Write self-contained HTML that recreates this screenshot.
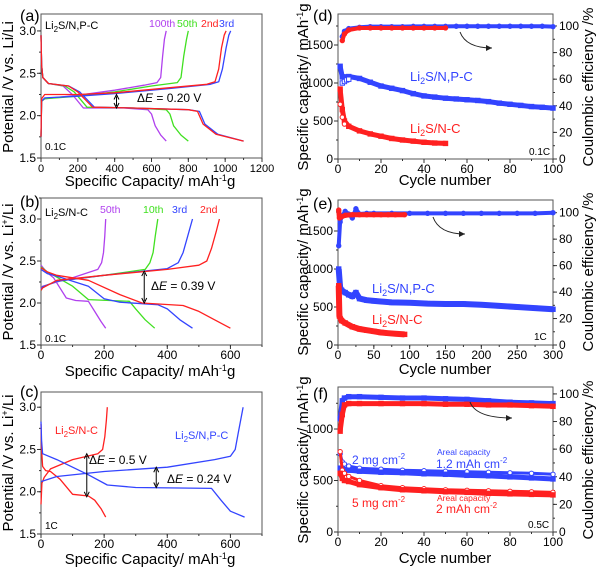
<!DOCTYPE html>
<html><head><meta charset="utf-8">
<style>
html,body{margin:0;padding:0;background:#fff;}
svg{display:block;font-family:"Liberation Sans",sans-serif;}
</style></head>
<body>
<svg id="fig" width="600" height="570" viewBox="0 0 600 570" xmlns="http://www.w3.org/2000/svg">
<rect width="600" height="570" fill="#fff"/>
<g font-size="15" fill="#000">
<text x="20" y="21" font-size="16">(a)</text>
<text x="45" y="29" font-size="11">Li<tspan dy="3" font-size="8">2</tspan><tspan dy="-3">S/N,P-C</tspan></text>
<text x="149" y="27" font-size="10.5" fill="#b040ee">100th</text>
<text x="177" y="27" font-size="10.5" fill="#40e020">50th</text>
<text x="201" y="27" font-size="10.5" fill="#ff2020">2nd</text>
<text x="219" y="27" font-size="10.5" fill="#3344ff">3rd</text>
<text x="137" y="102" font-size="12">Δ<tspan font-style="italic">E</tspan> = 0.20 V</text>
<text x="45" y="150" font-size="10">0.1C</text>
<text transform="translate(13,87) rotate(-90)" text-anchor="middle">Potential /V vs. Li/Li</text>
<text x="150" y="186" text-anchor="middle">Specific Capacity/ mAh<tspan dy="-5" font-size="9">-1</tspan><tspan dy="5">g</tspan></text>
<text x="20" y="207" font-size="16">(b)</text>
<text x="45" y="216" font-size="11">Li<tspan dy="3" font-size="8">2</tspan><tspan dy="-3">S/N-C</tspan></text>
<text x="100" y="213" font-size="10.5" fill="#b040ee">50th</text>
<text x="143" y="213" font-size="10.5" fill="#40e020">10th</text>
<text x="172" y="213" font-size="10.5" fill="#3344ff">3rd</text>
<text x="200" y="213" font-size="10.5" fill="#ff2020">2nd</text>
<text x="151" y="290" font-size="12">Δ<tspan font-style="italic">E</tspan> = 0.39 V</text>
<text x="45" y="342" font-size="10">0.1C</text>
<text transform="translate(13,272) rotate(-90)" text-anchor="middle">Potential /V vs. Li<tspan dy="-5" font-size="9">+</tspan><tspan dy="5">/Li</tspan></text>
<text x="150" y="376" text-anchor="middle">Specific Capacity/ mAh<tspan dy="-5" font-size="9">-1</tspan><tspan dy="5">g</tspan></text>
<text x="20" y="397" font-size="16">(c)</text>
<text x="55" y="434" font-size="11" fill="#ff2020">Li<tspan dy="3" font-size="8">2</tspan><tspan dy="-3">S/N-C</tspan></text>
<text x="175" y="439" font-size="11" fill="#3344ff">Li<tspan dy="3" font-size="8">2</tspan><tspan dy="-3">S/N,P-C</tspan></text>
<text x="89" y="464" font-size="12">Δ<tspan font-style="italic">E</tspan> = 0.5 V</text>
<text x="167" y="483" font-size="12">Δ<tspan font-style="italic">E</tspan> = 0.24 V</text>
<text x="45" y="529" font-size="10">1C</text>
<text transform="translate(13,463) rotate(-90)" text-anchor="middle">Potential /V vs. Li<tspan dy="-5" font-size="9">+</tspan><tspan dy="5">/Li</tspan></text>
<text x="150" y="564" text-anchor="middle">Specific Capacity/ mAh<tspan dy="-5" font-size="9">-1</tspan><tspan dy="5">g</tspan></text>
<text x="313" y="21" font-size="16">(d)</text>
<text x="410" y="81" font-size="13" fill="#3344ff">Li<tspan dy="3" font-size="9">2</tspan><tspan dy="-3">S/N,P-C</tspan></text>
<text x="410" y="133" font-size="13" fill="#ff2020">Li<tspan dy="3" font-size="9">2</tspan><tspan dy="-3">S/N-C</tspan></text>
<text x="529" y="155" font-size="10">0.1C</text>
<text transform="translate(308,87) rotate(-90)" text-anchor="middle">Specific capacity/ mAh<tspan dy="-5" font-size="9">-1</tspan><tspan dy="5">g</tspan></text>
<text transform="translate(593,87) rotate(-90)" text-anchor="middle">Coulombic efficiency /%</text>
<text x="445" y="185" text-anchor="middle">Cycle number</text>
<text x="313" y="209" font-size="16">(e)</text>
<text x="372" y="293" font-size="13" fill="#3344ff">Li<tspan dy="3" font-size="9">2</tspan><tspan dy="-3">S/N,P-C</tspan></text>
<text x="372" y="324" font-size="13" fill="#ff2020">Li<tspan dy="3" font-size="9">2</tspan><tspan dy="-3">S/N-C</tspan></text>
<text x="534" y="340" font-size="10">1C</text>
<text transform="translate(308,272) rotate(-90)" text-anchor="middle">Specific capacity/ mAh<tspan dy="-5" font-size="9">-1</tspan><tspan dy="5">g</tspan></text>
<text transform="translate(593,272) rotate(-90)" text-anchor="middle">Coulombic efficiency /%</text>
<text x="445" y="374" text-anchor="middle">Cycle number</text>
<text x="313" y="399" font-size="16">(f)</text>
<text x="352" y="464" font-size="12" fill="#3344ff">2 mg cm<tspan dy="-5" font-size="8">-2</tspan></text>
<text x="437" y="455" font-size="8.5" fill="#3344ff">Areal capacity</text>
<text x="436" y="468" font-size="12" fill="#3344ff">1.2 mAh cm<tspan dy="-5" font-size="8">-2</tspan></text>
<text x="352" y="507" font-size="12" fill="#ff2020">5 mg cm<tspan dy="-5" font-size="8">-2</tspan></text>
<text x="437" y="501" font-size="8.5" fill="#ff2020">Areal capacity</text>
<text x="436" y="513" font-size="12" fill="#ff2020">2 mAh cm<tspan dy="-5" font-size="8">-2</tspan></text>
<text x="528" y="528" font-size="10">0.5C</text>
<text transform="translate(308,460) rotate(-90)" text-anchor="middle">Specific capacity/ mAh<tspan dy="-5" font-size="9">-1</tspan><tspan dy="5">g</tspan></text>
<text transform="translate(593,460) rotate(-90)" text-anchor="middle">Coulombic efficiency /%</text>
<text x="445" y="563" text-anchor="middle">Cycle number</text>
</g>
</svg>
<script>
const a2ChgCap=[0,3,20,200,400,700,900,945,965,980,995,1005];
const a2ChgV=[1.75,2.2,2.25,2.25,2.27,2.33,2.37,2.4,2.55,2.8,2.95,3.0];
const a2DisCap=[0,3,10,40,150,200,280,500,800,850,880,950,1100];
const a2DisV=[2.95,2.6,2.45,2.38,2.35,2.28,2.1,2.09,2.07,2.05,1.9,1.78,1.7];
const a3ChgCap=[0,3,20,200,400,700,920,965,985,1005,1020,1030];
const a3ChgV=[1.75,2.17,2.21,2.23,2.26,2.32,2.37,2.4,2.55,2.8,2.95,3.0];
const a3DisCap=[0,3,10,40,150,210,290,500,800,860,890,960,1100];
const a3DisV=[2.95,2.6,2.45,2.38,2.35,2.28,2.1,2.09,2.07,2.05,1.9,1.78,1.7];
const a50ChgCap=[0,3,20,200,400,600,740,760,775,790,800];
const a50ChgV=[1.75,2.17,2.2,2.23,2.28,2.35,2.39,2.45,2.7,2.9,3.0];
const a50DisCap=[0,3,10,40,130,180,250,500,680,700,720,760,800];
const a50DisV=[2.95,2.6,2.45,2.38,2.35,2.28,2.1,2.09,2.07,2.02,1.88,1.77,1.7];
const a100ChgCap=[0,3,20,200,400,560,630,650,660,670,680];
const a100ChgV=[1.75,2.17,2.2,2.24,2.3,2.36,2.39,2.45,2.7,2.9,3.0];
const a100DisCap=[0,3,10,40,120,170,230,450,580,600,620,650,680];
const a100DisV=[2.95,2.6,2.45,2.38,2.35,2.25,2.09,2.09,2.07,2.02,1.88,1.77,1.7];
const b2ChgCap=[0,5,50,200,400,500,525,540,555,565];
const b2ChgV=[2.15,2.18,2.27,2.33,2.4,2.45,2.5,2.65,2.85,3.0];
const b2DisCap=[0,20,50,150,250,320,450,500,550,600];
const b2DisV=[2.42,2.37,2.33,2.27,2.1,2.0,1.97,1.9,1.8,1.7];
const b3ChgCap=[0,5,50,200,400,435,450,465,480];
const b3ChgV=[2.16,2.19,2.26,2.33,2.41,2.48,2.6,2.8,3.0];
const b3DisCap=[0,20,50,150,200,250,370,400,440,480];
const b3DisV=[2.4,2.35,2.32,2.2,2.05,2.01,1.98,1.93,1.8,1.7];
const b10ChgCap=[0,5,50,200,330,345,355,362,370];
const b10ChgV=[2.15,2.19,2.26,2.33,2.4,2.48,2.6,2.8,3.0];
const b10DisCap=[0,20,40,100,150,280,300,330,360];
const b10DisV=[2.43,2.37,2.33,2.2,2.04,2.02,1.93,1.8,1.7];
const b50ChgCap=[0,5,50,100,180,192,198,202,205];
const b50ChgV=[2.17,2.2,2.25,2.3,2.4,2.48,2.6,2.8,3.0];
const b50DisCap=[0,20,40,80,110,150,170,190,205];
const b50DisV=[2.45,2.36,2.3,2.06,2.03,2.02,1.9,1.78,1.7];
const cNcChgCap=[0,3,10,30,100,180,195,202,207,210];
const cNcChgV=[1.85,2.1,2.17,2.27,2.38,2.45,2.5,2.65,2.85,3.0];
const cNcDisCap=[0,2,5,15,30,60,100,150,170,190,205];
const cNcDisV=[2.8,2.5,2.3,2.25,2.24,2.15,1.97,1.95,1.9,1.8,1.7];
const cNpcChgCap=[0,50,200,400,550,600,615,625,635,640];
const cNpcChgV=[2.12,2.18,2.24,2.29,2.38,2.42,2.5,2.7,2.9,3.0];
const cNpcDisCap=[0,2,5,50,150,210,300,540,570,600,645];
const cNpcDisV=[2.83,2.6,2.45,2.38,2.2,2.08,2.05,2.04,1.9,1.77,1.7];
const dBlueCycles=[1,2,3,5,10,15,20,25,30,35,40,45,50,55,60,65,70,75,80,85,90,95,100];
const dBlueCap=[1220,1080,1080,1085,1060,1010,960,930,900,860,830,815,800,790,780,770,755,735,720,705,690,680,670];
const dBlueCE=[null,92,96,98,99,99.5,99.5,99.5,99.5,99.7,99.7,99.7,99.7,99.8,99.8,99.8,99.8,99.8,99.8,99.8,99.8,99.8,99.5];
const dBlueOpenCycles=[2,3,4,5];
const dBlueOpenCap=[1000,1020,1040,1050];
const dRedCycles=[1,2,3,5,10,15,20,25,30,35,40,45,50];
const dRedCap=[920,650,500,430,370,330,300,270,250,235,220,210,205];
const dRedCE=[null,89,94,97,98.5,98.5,98.5,98.5,98.5,98.5,98.5,98.5,98.5];
const dRedOpenCycles=[1,2,3];
const dRedOpenCap=[720,550,460];
const eBlueCycles=[1,3,5,10,15,20,25,30,40,50,75,100,125,150,175,200,225,250,275,300];
const eBlueCap=[1000,760,720,690,660,640,690,610,590,580,560,555,545,540,540,530,515,500,485,470];
const eBlueCE=[75,93,97,101,99,96,103,99,99.5,99.5,99.5,99.5,99.5,99.5,99.5,99.5,99.5,99.5,99.5,100];
const eRedCycles=[1,2,5,10,20,30,40,50,60,70,80,93];
const eRedCap=[780,380,320,290,240,210,195,180,165,155,148,140];
const eRedCE=[102,96,97,98,98.5,98.5,98.5,98.5,98.5,98.5,98.5,98.5];
const fCycles=[1,2,3,5,10,20,30,40,50,60,70,80,90,100];
const fBlueCap=[620,610,605,600,590,580,575,565,560,550,545,535,525,515];
const fBlueOpen=[760,680,660,640,620,610,600,595,590,585,580,575,570,560];
const fBlueCE=[82,95,97,98,98,97.5,97,97,96.5,96,95,94,93.5,93];
const fRedCap=[570,520,500,490,460,430,410,400,390,385,375,370,365,360];
const fRedOpen=[780,600,570,540,500,450,430,420,410,405,400,395,390,385];
const fRedCE=[73,85,92,93,93,93,93,93,92.5,92.5,92,92,91.5,91];
const aXTicks=[0,200,400,600,800,1000,1200];
const vTicks=[1.5,2.0,2.5,3.0];
const bcXTicks=[0,200,400,600];
const dXTicks=[0,20,40,60,80,100];
const eXTicks=[0,50,100,150,200,250,300];
const capTicksDE=[0,500,1000,1500];
const capTicksF=[0,500,1000];
const ceTicks=[0,20,40,60,80,100];

const NS='http://www.w3.org/2000/svg';
const svg=document.getElementById('fig');
const RED='#ff2020',BLUE='#3344ff',GREEN='#40e020',PURPLE='#b040ee';
function el(tag,attrs,name,parent){
  const e=document.createElementNS(NS,tag);
  for(const k in attrs)e.setAttribute(k,attrs[k]);
  
  
  (parent||svg).appendChild(e);
  return e;
}
function mkPanel(p){
  p.sx=v=>p.x0+(v-p.xmin)/(p.xmax-p.xmin)*(p.x1-p.x0);
  p.sy=v=>p.y1-(v-p.ymin)/(p.ymax-p.ymin)*(p.y1-p.y0);
  if(p.rmax!==undefined)p.sr=v=>p.y1-(v-p.rmin)/(p.rmax-p.rmin)*(p.y1-p.y0);
  p.g=el('g',{},p.id+'-plot');
  return p;
}
function frame(p,xt,xminor,yt,yminor,yfmt,rt,xfs){
  const g=p.g;
  el('rect',{x:p.x0,y:p.y0,width:p.x1-p.x0,height:p.y1-p.y0,fill:'none',stroke:'#555','stroke-width':1},p.id+'-frame',g);
  xt.forEach(v=>{
    const x=p.sx(v);
    el('line',{x1:x,x2:x,y1:p.y1,y2:p.y1+4,stroke:'#333'},p.id+'-x-tick',g);
    const t=el('text',{x:x,y:p.y1+14,'font-size':xfs||12,'text-anchor':'middle'},p.id+'-x-tick-label',g);
    t.textContent=v;
  });
  for(let v=p.xmin;v<=p.xmax+1e-9;v+=xminor){
    const x=p.sx(v);
    el('line',{x1:x,x2:x,y1:p.y1,y2:p.y1+2,stroke:'#333'},p.id+'-x-minor-tick',g);
  }
  yt.forEach(v=>{
    const y=p.sy(v);
    el('line',{x1:p.x0-4,x2:p.x0,y1:y,y2:y,stroke:'#333'},p.id+'-y-tick',g);
    const t=el('text',{x:p.x0-5,y:y+4,'font-size':12,'text-anchor':'end'},p.id+'-y-tick-label',g);
    t.textContent=yfmt(v);
  });
  for(let v=p.ymin;v<=p.ymax;v+=yminor){
    const y=p.sy(v);
    el('line',{x1:p.x0-2,x2:p.x0,y1:y,y2:y,stroke:'#333'},p.id+'-y-minor-tick',g);
  }
  if(rt){rt.forEach(v=>{
    const y=p.sr(v);
    el('line',{x1:p.x1,x2:p.x1+4,y1:y,y2:y,stroke:'#333'},p.id+'-y2-tick',g);
    const t=el('text',{x:p.x1+6,y:y+4,'font-size':12},p.id+'-y2-tick-label',g);
    t.textContent=v;
  });
  for(let v=p.rmin;v<=p.rmax;v+=10){
    const y=p.sr(v);
    el('line',{x1:p.x1,x2:p.x1+2,y1:y,y2:y,stroke:'#333'},p.id+'-y2-minor-tick',g);
  }}
}
function curve(p,xs,ys,color,name){
  const pts=xs.map((x,i)=>p.sx(x).toFixed(1)+','+p.sy(ys[i]).toFixed(1)).join(' ');
  el('polyline',{points:pts,fill:'none',stroke:color,'stroke-width':1.3,'stroke-linejoin':'round'},name,p.g);
}
function series(p,xs,ys,color,name,opts){
  const fy=opts.right?p.sr:p.sy;
  const pts=[];
  xs.forEach((x,i)=>{if(ys[i]!==null)pts.push([p.sx(x),fy(ys[i])]);});
  if(opts.line)el('polyline',{points:pts.map(q=>q[0].toFixed(1)+','+q[1].toFixed(1)).join(' '),fill:'none',stroke:color,'stroke-width':opts.line,'stroke-linejoin':'round'},name+'-line',p.g);
  pts.forEach(q=>{
    if(opts.circle)el('circle',{cx:q[0],cy:q[1],r:2.2,fill:opts.open?'#fff':color,stroke:color,'stroke-width':1},name+'-point',p.g);
    else el('rect',{x:q[0]-2.2,y:q[1]-2.2,width:4.4,height:4.4,fill:opts.open?'#fff':color,stroke:color,'stroke-width':1},name+'-point',p.g);
  });
}
function vArrow(p,xv,v1,v2,name){
  const x=p.sx(xv),y1=p.sy(v1),y2=p.sy(v2);
  el('line',{x1:x,x2:x,y1:y1+2,y2:y2-2,stroke:'#000','stroke-width':1},name,p.g);
  el('path',{d:`M${x-2.5},${y1+5}L${x},${y1}L${x+2.5},${y1+5}M${x-2.5},${y2-5}L${x},${y2}L${x+2.5},${y2-5}`,fill:'none',stroke:'#000','stroke-width':1},name+'-heads',p.g);
}
function curvedArrow(x1,y1,x2,y2,name){
  el('path',{d:`M${x1},${y1}Q${x1+6},${y2} ${x2},${y2}`,fill:'none',stroke:'#222','stroke-width':1},name);
  el('path',{d:`M${x2-6},${y2-3}L${x2},${y2}L${x2-6},${y2+3}Z`,fill:'#222'},name+'-head');
}
const f1=v=>v.toFixed(1);
const f0=v=>String(v);

const pa=mkPanel({id:'a',x0:41,x1:262,y0:14,y1:158,xmin:0,xmax:1200,ymin:1.5,ymax:3.2});
frame(pa,aXTicks,100,vTicks,0.25,f1,null,11);
curve(pa,a100ChgCap,a100ChgV,PURPLE,'a-100th-charge');curve(pa,a100DisCap,a100DisV,PURPLE,'a-100th-discharge');
curve(pa,a50ChgCap,a50ChgV,GREEN,'a-50th-charge');curve(pa,a50DisCap,a50DisV,GREEN,'a-50th-discharge');
curve(pa,a3ChgCap,a3ChgV,BLUE,'a-3rd-charge');curve(pa,a3DisCap,a3DisV,BLUE,'a-3rd-discharge');
curve(pa,a2ChgCap,a2ChgV,RED,'a-2nd-charge');curve(pa,a2DisCap,a2DisV,RED,'a-2nd-discharge');
vArrow(pa,410,2.25,2.09,'a-delta-arrow');
const pb=mkPanel({id:'b',x0:41,x1:262,y0:198,y1:345,xmin:0,xmax:700,ymin:1.5,ymax:3.25});
frame(pb,bcXTicks,100,vTicks,0.25,f1);
curve(pb,b50ChgCap,b50ChgV,PURPLE,'b-50th-charge');curve(pb,b50DisCap,b50DisV,PURPLE,'b-50th-discharge');
curve(pb,b10ChgCap,b10ChgV,GREEN,'b-10th-charge');curve(pb,b10DisCap,b10DisV,GREEN,'b-10th-discharge');
curve(pb,b3ChgCap,b3ChgV,BLUE,'b-3rd-charge');curve(pb,b3DisCap,b3DisV,BLUE,'b-3rd-discharge');
curve(pb,b2ChgCap,b2ChgV,RED,'b-2nd-charge');curve(pb,b2DisCap,b2DisV,RED,'b-2nd-discharge');
vArrow(pb,327,2.38,2.0,'b-delta-arrow');
const pc=mkPanel({id:'c',x0:41,x1:262,y0:392,y1:534,xmin:0,xmax:700,ymin:1.5,ymax:3.18});
frame(pc,bcXTicks,100,vTicks,0.25,f1);
curve(pc,cNcChgCap,cNcChgV,RED,'c-nc-charge');curve(pc,cNcDisCap,cNcDisV,RED,'c-nc-discharge');
curve(pc,cNpcChgCap,cNpcChgV,BLUE,'c-npc-charge');curve(pc,cNpcDisCap,cNpcDisV,BLUE,'c-npc-discharge');
vArrow(pc,145,2.45,1.94,'c-delta-arrow-nc');
vArrow(pc,365,2.29,2.05,'c-delta-arrow-npc');
const pd=mkPanel({id:'d',x0:338,x1:553,y0:14,y1:159,xmin:0,xmax:100,ymin:0,ymax:1908,rmin:0,rmax:109});
frame(pd,dXTicks,10,capTicksDE,250,f0,ceTicks);
series(pd,dBlueCycles,dBlueCap,BLUE,'d-npc-capacity',{line:5});
series(pd,dBlueOpenCycles,dBlueOpenCap,BLUE,'d-npc-charge-capacity',{open:true});
series(pd,dRedCycles,dRedCap,RED,'d-nc-capacity',{line:5});
series(pd,dRedOpenCycles,dRedOpenCap,RED,'d-nc-charge-capacity',{open:true,circle:true});
series(pd,dBlueCycles,dBlueCE,BLUE,'d-npc-ce',{right:true,circle:true,line:4});
series(pd,dRedCycles,dRedCE,RED,'d-nc-ce',{right:true,circle:true,line:4});
curvedArrow(460,32,492,48,'d-arrow');
const pe=mkPanel({id:'e',x0:338,x1:553,y0:200,y1:345,xmin:0,xmax:300,ymin:0,ymax:1908,rmin:0,rmax:109.6});
frame(pe,eXTicks,25,capTicksDE,250,f0,ceTicks);
series(pe,eBlueCycles,eBlueCap,BLUE,'e-npc-capacity',{line:6});
series(pe,eRedCycles,eRedCap,RED,'e-nc-capacity',{line:6});
series(pe,eBlueCycles,eBlueCE,BLUE,'e-npc-ce',{right:true,circle:true,line:4});
series(pe,eRedCycles,eRedCE,RED,'e-nc-ce',{right:true,circle:true,line:5});
curvedArrow(433,217,465,234,'e-arrow');
const pf=mkPanel({id:'f',x0:338,x1:553,y0:387,y1:532,xmin:0,xmax:100,ymin:0,ymax:1408,rmin:0,rmax:105});
frame(pf,dXTicks,10,capTicksF,250,f0,ceTicks);
series(pf,fCycles,fBlueOpen,BLUE,'f-2mg-charge-capacity',{open:true,circle:true,line:3});
series(pf,fCycles,fBlueCap,BLUE,'f-2mg-capacity',{line:5});
series(pf,fCycles,fRedOpen,RED,'f-5mg-charge-capacity',{open:true,circle:true,line:3});
series(pf,fCycles,fRedCap,RED,'f-5mg-capacity',{line:5});
series(pf,fCycles,fBlueCE,BLUE,'f-2mg-ce',{right:true,line:5});
series(pf,fCycles,fRedCE,RED,'f-5mg-ce',{right:true,line:5});
curvedArrow(470,402,512,418,'f-arrow');
</script>
</body></html>
